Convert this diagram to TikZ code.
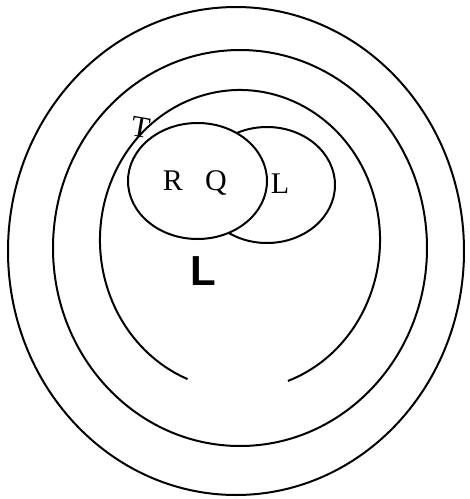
\documentclass[tikz,border=0pt]{standalone}
\usepackage{fontspec}
\setmainfont{Liberation Serif}
\newfontfamily\bigsans{Liberation Sans}
\tikzset{
  ring/.style={draw=black, line width=2pt},
  lbl/.style={inner sep=0pt, anchor=base, font=\fontsize{30}{31}\selectfont},
  biglbl/.style={inner sep=0pt, anchor=base, font=\bigsans\bfseries\fontsize{42}{44}\selectfont}
}
\begin{document}
\begin{tikzpicture}[x=1pt,y=-1pt]
\useasboundingbox (0,0) rectangle (470,499);
% outer and middle rings
\draw[ring] (236,251) ellipse [x radius=228pt, y radius=244pt];
\draw[ring] (240,248) ellipse [x radius=187pt, y radius=198pt];
% inner open arc
\coordinate (ic) at (240,240);
\draw[ring] (ic) ++(-70:140pt and 150pt) arc [start angle=-70, end angle=248, x radius=140pt, y radius=150pt];
% left small ellipse (R Q)
\draw[ring] (197.5,181) ellipse [x radius=69.5pt, y radius=58pt];
% right small ellipse (L), hidden inside left one
\begin{scope}[even odd rule]
  \clip (0,0) rectangle (470,499) (197.5,181) ellipse [x radius=69.5pt, y radius=58pt];
  \draw[ring] (267,185) ellipse [x radius=68pt, y radius=58pt];
\end{scope}
% labels
\node[lbl, rotate=-10] (T) at (139,137) {T};
\node[lbl] (R) at (173,190) {R};
\node[lbl] (Q) at (216,190) {Q};
\node[lbl] (L1) at (280,193) {L};
\node[biglbl] (L2) at (203,285) {L};
\end{tikzpicture}
\end{document}
